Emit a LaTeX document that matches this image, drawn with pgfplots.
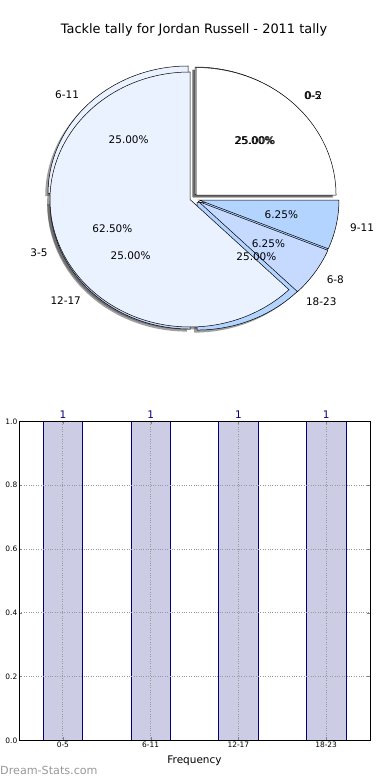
\documentclass[border=0pt]{standalone}
\usepackage{pgfplots}
\pgfplotsset{compat=1.18}
\usepackage{fontspec}
\setmainfont{DejaVu Sans}
\definecolor{wA}{HTML}{FFFFFF}
\definecolor{wB}{HTML}{EBF2FF}
\definecolor{wC}{HTML}{C6D9FF}
\definecolor{wD}{HTML}{B3D4FF}
\definecolor{barfill}{HTML}{CCCCE5}
\definecolor{baredge}{HTML}{000080}
\newcommand{\pief}{\fontsize{10.5}{12}\selectfont}
% dx dy startpct endpct colour
\newcommand{\pieslice}[5]{%
  \filldraw[fill=#5,draw=black,line width=0.5bp] (axis cs:#1,#2) -- ++({3.6*(#3)}:140bp and 127.5bp)
    arc[start angle={3.6*(#3)}, end angle={3.6*(#4)}, x radius=140bp, y radius=127.5bp] -- cycle;}
\newcommand{\pieshadow}[4]{%
  \fill[black!75,opacity=0.5] (axis cs:{#1-0.02},{#2-0.02}) -- ++({3.6*(#3)}:140bp and 127.5bp)
    arc[start angle={3.6*(#3)}, end angle={3.6*(#4)}, x radius=140bp, y radius=127.5bp] -- cycle;}
% dx dy midpct text
\newcommand{\plabel}[4]{%
  \node[font=\pief,inner sep=0pt] at (axis cs:{#1+0.6*cos(3.6*(#3))},{#2+0.6*sin(3.6*(#3))}) {#4};}
% dx dy midpct anchor text
\newcommand{\olabel}[5]{%
  \node[font=\pief,inner sep=0pt,anchor=#4] at (axis cs:{#1+1.1*cos(3.6*(#3))},{#2+1.1*sin(3.6*(#3))}) {#5};}
\begin{document}
\begin{tikzpicture}
\useasboundingbox (0,0) rectangle (390bp,780bp);
\fill[white] (0,0) rectangle (390bp,780bp);
\node[font=\fontsize{13}{15}\selectfont] at (194bp,750bp) {Tackle tally for Jordan Russell - 2011 tally};
% ---------------- pie charts ----------------
\begin{axis}[at={(190bp,580.5bp)}, anchor=origin, x=140bp, y=127.5bp,
  xmin=-1.3, xmax=1.3, ymin=-1.3, ymax=1.3, hide axis, clip=false]
% pie B (0-5, 6-11, 12-17, 18-23): 25, 25, 25, 25
% pie A (0-2, 3-5, 6-8, 9-11): 25, 62.5, 6.25, 6.25
\pieshadow{0.036}{0.039}{0}{25}
\pieshadow{-0.014}{0.047}{25}{50}
\pieshadow{0}{-0.016}{50}{75}
\pieshadow{0.05}{-0.024}{75}{100}
\pieshadow{0.043}{0.035}{0}{25}
\pieshadow{0}{0}{25}{87.5}
\pieshadow{0.061}{-0.016}{87.5}{93.75}
\pieshadow{0.064}{-0.004}{93.75}{100}
\pieslice{0.036}{0.039}{0}{25}{wA}
\pieslice{-0.014}{0.047}{25}{50}{wB}
\pieslice{0}{-0.016}{50}{75}{wC}
\pieslice{0.05}{-0.024}{75}{100}{wD}
\pieslice{0.043}{0.035}{0}{25}{wA}
\pieslice{0}{0}{25}{87.5}{wB}
\pieslice{0.061}{-0.016}{87.5}{93.75}{wC}
\pieslice{0.064}{-0.004}{93.75}{100}{wD}
\plabel{0.036}{0.039}{12.5}{25.00\%}
\plabel{-0.014}{0.047}{37.5}{25.00\%}
\plabel{0}{-0.016}{62.5}{25.00\%}
\plabel{0.05}{-0.024}{87.5}{25.00\%}
\olabel{0.036}{0.039}{12.5}{west}{0-5}
\olabel{-0.014}{0.047}{37.5}{east}{6-11}
\olabel{0}{-0.016}{62.5}{east}{12-17}
\olabel{0.05}{-0.024}{87.5}{west}{18-23}
\plabel{0.043}{0.035}{12.5}{25.00\%}
\plabel{0}{0}{56.25}{62.50\%}
\plabel{0.061}{-0.016}{90.625}{6.25\%}
\plabel{0.064}{-0.004}{96.875}{6.25\%}
\olabel{0.043}{0.035}{12.5}{west}{0-2}
\olabel{0}{0}{56.25}{east}{3-5}
\olabel{0.061}{-0.016}{90.625}{west}{6-8}
\olabel{0.064}{-0.004}{96.875}{west}{9-11}
\end{axis}
% ---------------- bar chart ----------------
\begin{axis}[at={(19bp,39.7bp)}, anchor=south west, scale only axis,
  width=351bp, height=318.8bp,
  xmin=-0.5, xmax=3.5, ymin=0, ymax=1,
  ybar, bar width=39.5bp, bar shift=0pt,
  xtick={0,1,2,3}, xticklabels={0-5,6-11,12-17,18-23},
  ytick={0,0.2,0.4,0.6,0.8,1.0},
  yticklabel style={/pgf/number format/.cd, fixed, fixed zerofill, precision=1},
  /pgf/number format/assume math mode=true,
  ticklabel style={font=\fontsize{7.5}{9}\selectfont, inner sep=1.5bp},
  grid=major, grid style={dotted, black!40, line width=0.8bp},
  axis on top,
  tick align=inside, major tick length=3bp, tick style={black!50},
  axis line style={black, line width=0.7bp},
  xlabel={Frequency},
  xlabel style={font=\pief, at={(axis description cs:0.5,0)}, anchor=center, yshift=-20bp},
  nodes near coords,
  nodes near coords style={font=\pief, text=baredge, anchor=south, inner sep=3bp},
  clip=false]
\addplot[fill=barfill, draw=baredge, line width=0.7bp] coordinates {(0,1) (1,1) (2,1) (3,1)};
\end{axis}
\node[anchor=west, text=black!40, font=\fontsize{11.2}{13}\selectfont, inner sep=0pt] at (0bp,10bp) {Dream-Stats.com};
\end{tikzpicture}
\end{document}
